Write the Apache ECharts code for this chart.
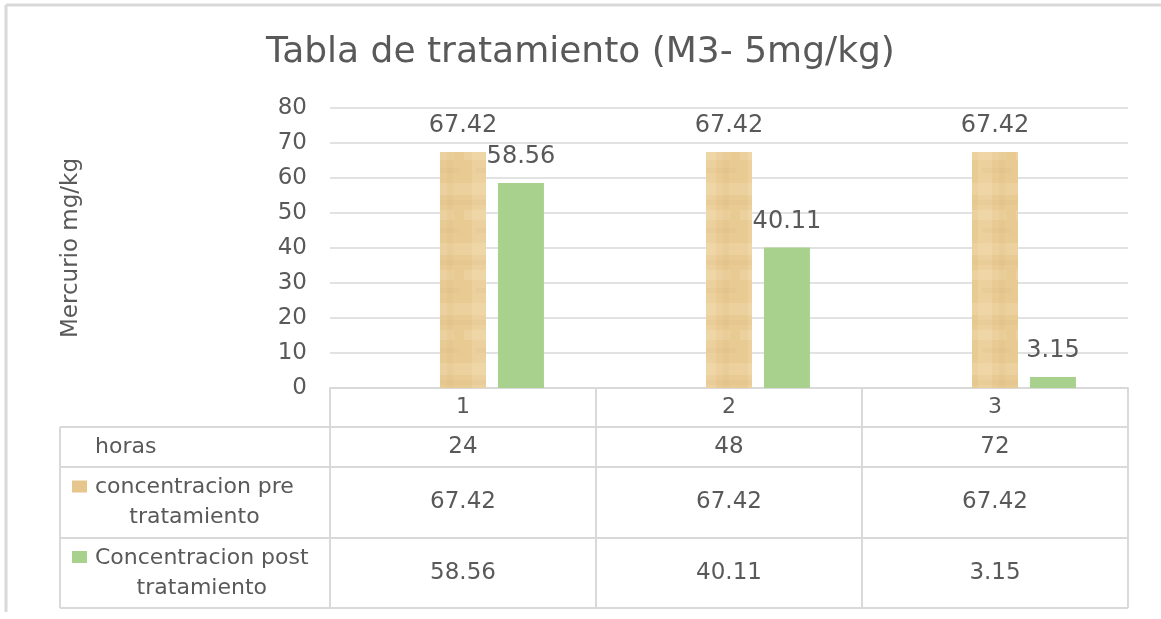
<!DOCTYPE html>
<html>
<head>
<meta charset="utf-8">
<script src="https://cdn.jsdelivr.net/npm/echarts@6/dist/echarts.min.js"></script>
<style>
  html, body { margin: 0; padding: 0; background: #fff; }
  #chart { width: 1161px; height: 619px; }
</style>
</head>
<body>
<div id="chart"></div>
<script>
// datos del grafico
const titulo = 'Tabla de tratamiento (M3- 5mg/kg)'
const nombreEjeY = 'Mercurio mg/kg'
const categorias = ['1', '2', '3']
const horas = [24, 48, 72]
const preTratamiento = [67.42, 67.42, 67.42]
const postTratamiento = [58.56, 40.11, 3.15]
const filasTabla = ['horas', 'concentracion pre\ntratamiento', 'Concentracion post\ntratamiento']

const fuente = 'DejaVu Sans'
const gris = '#595959'
const linea = '#d9d9d9'
const verde = '#a9d18e'

// textura tipo papiro para la serie "pre"
function texturaPapiro () {
    const c = document.createElement('canvas')
    c.width = 46
    c.height = 60
    const ctx = c.getContext('2d')
    ctx.fillStyle = '#e8ca93'
    ctx.fillRect(0, 0, 46, 60)
    ctx.fillStyle = 'rgba(246,226,184,0.3)'
    ctx.fillRect(0, 3, 46, 12)
    ctx.fillRect(4, 30, 36, 10)
    ctx.fillRect(12, 0, 14, 60)
    ctx.fillStyle = 'rgba(210,172,110,0.1)'
    ctx.fillRect(0, 20, 46, 5)
    ctx.fillRect(16, 48, 30, 5)
    ctx.fillRect(33, 0, 6, 60)
    return c
}
const colorPre = { image: texturaPapiro(), repeat: 'repeat' }

const chart = echarts.init(document.getElementById('chart'))

const option = {
    animation: false,
    backgroundColor: '#fff',
    title: {
        text: titulo,
        left: 'center',
        top: 30,
        textStyle: { fontFamily: fuente, fontSize: 36, fontWeight: 'normal', color: gris }
    },
    grid: { left: 330, right: 33, top: 108, bottom: 231 },
    xAxis: {
        type: 'category',
        data: categorias,
        axisLine: { lineStyle: { color: linea, width: 2 } },
        axisTick: { show: false },
        axisLabel: { color: gris, fontFamily: fuente, fontSize: 22, margin: 8 }
    },
    yAxis: {
        type: 'value',
        min: 0,
        max: 80,
        interval: 10,
        name: nombreEjeY,
        nameLocation: 'middle',
        nameGap: 247,
        nameTextStyle: { color: gris, fontFamily: fuente, fontSize: 23 },
        axisLine: { show: false },
        axisTick: { show: false },
        axisLabel: { color: gris, fontFamily: fuente, fontSize: 23, margin: 23 },
        splitLine: { lineStyle: { color: linea, width: 1.5 } }
    },
    series: [
        {
            name: 'horas',
            type: 'bar',
            data: horas,
            barWidth: 46,
            barGap: '26%',
            itemStyle: { color: 'rgba(0,0,0,0)' },
            silent: true
        },
        {
            name: 'concentracion pre tratamiento',
            type: 'bar',
            data: preTratamiento,
            barWidth: 46,
            barGap: '26%',
            itemStyle: { color: colorPre },
            label: { show: true, position: 'top', distance: 14, color: gris, fontFamily: fuente, fontSize: 24 }
        },
        {
            name: 'Concentracion post tratamiento',
            type: 'bar',
            data: postTratamiento,
            barWidth: 46,
            barGap: '26%',
            itemStyle: { color: verde },
            label: { show: true, position: 'top', distance: 14, color: gris, fontFamily: fuente, fontSize: 24 }
        }
    ]
}
chart.setOption(option)

// tabla de datos debajo del eje
const filasY = [388, 427, 467, 538, 608]
const tablaIzq = 60
const c0 = chart.convertToPixel({ xAxisIndex: 0 }, 0)
const banda = chart.convertToPixel({ xAxisIndex: 0 }, 1) - c0
const bordes = categorias.map((_, i) => c0 - banda / 2 + i * banda).concat([c0 - banda / 2 + categorias.length * banda])
const tablaDer = bordes[bordes.length - 1]

const medir = document.createElement('canvas').getContext('2d')
medir.font = '22px "' + fuente + '"'

const g = []
const linOpts = { stroke: linea, lineWidth: 2 }
// marco exterior
g.push({ type: 'line', shape: { x1: 6, y1: 5, x2: 1161, y2: 5 }, style: { stroke: linea, lineWidth: 3 } })
g.push({ type: 'line', shape: { x1: 6, y1: 5, x2: 6, y2: 612 }, style: { stroke: linea, lineWidth: 3 } })
// horizontales
filasY.slice(1).forEach(y => {
    g.push({ type: 'line', shape: { x1: tablaIzq, y1: y, x2: tablaDer, y2: y }, style: linOpts })
})
// verticales
g.push({ type: 'line', shape: { x1: tablaIzq, y1: filasY[1], x2: tablaIzq, y2: filasY[4] }, style: linOpts })
bordes.forEach(x => {
    g.push({ type: 'line', shape: { x1: x, y1: filasY[0], x2: x, y2: filasY[4] }, style: linOpts })
})

// rotulos de filas
const txt = { fill: gris, fontFamily: fuente, fontSize: 22, lineHeight: 30, verticalAlign: 'middle' }
g.push({ type: 'text', style: Object.assign({}, txt, { text: filasTabla[0], x: 95, y: (filasY[1] + filasY[2]) / 2, align: 'left' }) })
;[1, 2].forEach(r => {
    const yc = (filasY[r + 1] + filasY[r + 2]) / 2
    const ancho = Math.max.apply(null, filasTabla[r].split('\n').map(l => medir.measureText(l).width))
    g.push({ type: 'rect', shape: { x: 72, y: yc - 22, width: 15, height: 12 }, style: { fill: r === 1 ? '#e6c68d' : verde } })
    g.push({ type: 'text', style: Object.assign({}, txt, { text: filasTabla[r], x: 95 + ancho / 2, y: yc, align: 'center' }) })
})

// valores de la tabla
const valoresFilas = [horas, preTratamiento, postTratamiento]
valoresFilas.forEach((fila, r) => {
    const yc = (filasY[r + 1] + filasY[r + 2]) / 2
    fila.forEach((v, i) => {
        const xc = chart.convertToPixel({ xAxisIndex: 0 }, i)
        g.push({ type: 'text', style: Object.assign({}, txt, { text: String(v), x: xc, y: yc, align: 'center', fontSize: 23 }) })
    })
})

chart.setOption({ graphic: g })
</script>
</body>
</html>
